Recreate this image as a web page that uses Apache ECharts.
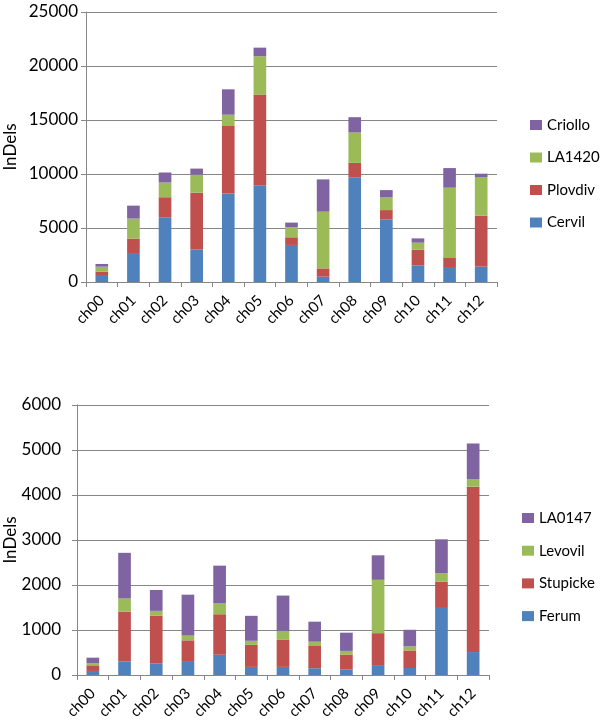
<!DOCTYPE html>
<html>
<head>
<meta charset="utf-8">
<script src="https://cdn.jsdelivr.net/npm/echarts@6/dist/echarts.min.js"></script>
<style>
html,body{margin:0;padding:0;background:#fff;}
#chart{width:600px;height:726px;}
</style>
</head>
<body>
<div id="chart"></div>
<script>
var categories = ['ch00','ch01','ch02','ch03','ch04','ch05','ch06','ch07','ch08','ch09','ch10','ch11','ch12'];

// Top chart
var cervil  = [650, 2600, 6000, 3020, 8200, 8950, 3430, 490, 9700, 5800, 1540, 1390, 1420];
var plovdiv = [310, 1420, 1850, 5250, 6240, 8400, 710, 770, 1330, 860, 1450, 830, 4720];
var la1420  = [460, 1850, 1360, 1670, 1050, 3550, 930, 5250, 2810, 1170, 650, 6510, 3580];
var criollo = [250, 1200, 930, 560, 2350, 800, 430, 2990, 1420, 680, 400, 1820, 310];

// Bottom chart
var ferum    = [90, 305, 260, 310, 450, 180, 180, 150, 120, 220, 155, 1490, 510];
var stupicke = [125, 1105, 1060, 460, 900, 490, 600, 495, 335, 710, 390, 585, 3675];
var levovil  = [50, 290, 105, 105, 250, 90, 200, 95, 80, 1185, 90, 185, 170];
var la0147   = [120, 1015, 465, 910, 830, 555, 785, 445, 405, 545, 370, 755, 790];

var topTicks = [0, 5000, 10000, 15000, 20000, 25000];
var bottomTicks = [0, 1000, 2000, 3000, 4000, 5000, 6000];

var BLUE = '#4F81BD', RED = '#C0504D', GREEN = '#9BBB59', PURPLE = '#8064A2';
var GRID = '#868686';
var FONT = 'Lato';

function xAxis(gi) {
  return {
    type: 'category', gridIndex: gi, data: categories,
    axisLine: {lineStyle: {color: GRID, width: 1}},
    axisTick: {show: true, length: 5, lineStyle: {color: GRID}},
    axisLabel: {rotate: 45, margin: 16, fontFamily: FONT, fontSize: 15, color: '#000'}
  };
}
function yAxis(gi, ticks, gap) {
  return {
    type: 'value', gridIndex: gi, min: ticks[0], max: ticks[ticks.length - 1],
    interval: ticks[1] - ticks[0],
    name: 'InDels', nameLocation: 'middle', nameGap: gap, nameRotate: 90,
    nameMoveOverlap: false,
    nameTextStyle: {fontFamily: FONT, fontSize: 17, color: '#000'},
    axisLine: {show: true, lineStyle: {color: GRID, width: 1}},
    axisTick: {show: true, length: 5, lineStyle: {color: GRID}},
    splitLine: {show: true, lineStyle: {color: GRID, width: 1}},
    axisLabel: {fontFamily: FONT, fontSize: 17, color: '#000', margin: gi === 0 ? 8 : 16,
      formatter: function (v) { return String(v); }}
  };
}
function bar(name, data, color, gi, stack) {
  return {
    name: name, type: 'bar', stack: stack, xAxisIndex: gi, yAxisIndex: gi,
    data: data, barWidth: '40%', itemStyle: {color: color}, emphasis: {disabled: true}
  };
}

var chart = echarts.init(document.getElementById('chart'), null, {renderer: 'canvas'});
chart.setOption({
  animation: false,
  backgroundColor: '#fff',
  grid: [
    {left: 86, right: 103, top: 12, height: 270, containLabel: false, outerBoundsMode: 'none'},
    {left: 77, right: 111, top: 405, height: 270, containLabel: false, outerBoundsMode: 'none'}
  ],
  legend: [
    {
      orient: 'vertical', left: 525, top: 110, itemWidth: 12, itemHeight: 10, itemGap: 12.5,
      icon: 'rect', data: ['Criollo', 'LA1420', 'Plovdiv', 'Cervil'],
      textStyle: {fontFamily: FONT, fontSize: 15, color: '#000', lineHeight: 20},
      selectedMode: false
    },
    {
      orient: 'vertical', left: 517, top: 503, itemWidth: 12, itemHeight: 10, itemGap: 12.7,
      icon: 'rect', data: ['LA0147', 'Levovil', 'Stupicke', 'Ferum'],
      textStyle: {fontFamily: FONT, fontSize: 15, color: '#000', lineHeight: 20},
      selectedMode: false
    }
  ],
  xAxis: [xAxis(0), xAxis(1)],
  yAxis: [yAxis(0, topTicks, 67), yAxis(1, bottomTicks, 58)],
  series: [
    bar('Cervil', cervil, BLUE, 0, 'a'),
    bar('Plovdiv', plovdiv, RED, 0, 'a'),
    bar('LA1420', la1420, GREEN, 0, 'a'),
    bar('Criollo', criollo, PURPLE, 0, 'a'),
    bar('Ferum', ferum, BLUE, 1, 'b'),
    bar('Stupicke', stupicke, RED, 1, 'b'),
    bar('Levovil', levovil, GREEN, 1, 'b'),
    bar('LA0147', la0147, PURPLE, 1, 'b')
  ]
});
</script>
</body>
</html>
